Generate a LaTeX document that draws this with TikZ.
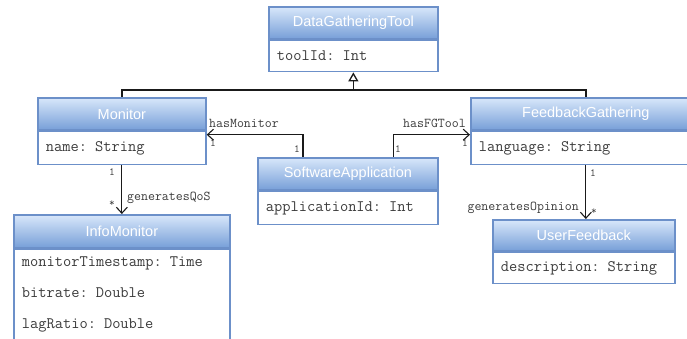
\documentclass[tikz,border=0pt]{standalone}
\usepackage{fontspec}
\setsansfont{Liberation Sans}
\usetikzlibrary{arrows.meta,calc}
\begin{document}
\begin{tikzpicture}[x=1pt,y=-1pt,
  hdr/.style={draw=color0,line width=1.7pt,top color=color1,bottom color=color2,text=white,
    font=\sffamily\fontsize{14.5}{16}\selectfont,anchor=north west,inner sep=0pt,
    minimum height=32pt,text width=#1,align=center},
  attr/.style={draw=color0,line width=1.7pt,fill=white,text=color3,
    font=\ttfamily\fontsize{16}{31}\selectfont,anchor=north west,inner xsep=8pt,inner ysep=0pt,
    align=left},
  lbl/.style={text=color3,font=\ttfamily\fontsize{13.5}{15}\selectfont,inner sep=0pt},
  mult/.style={text=color3,font=\ttfamily\fontsize{11}{12}\selectfont,inner sep=0pt},
  gen/.style={color4,line width=1.3pt},
  assoc/.style={color4,line width=1.1pt,-{Straight Barb[length=6pt,width=11pt]}}]
\definecolor{color0}{HTML}{6C90C9}
\definecolor{color1}{HTML}{D8E7FA}
\definecolor{color2}{HTML}{779FD8}
\definecolor{color3}{HTML}{3C3C3C}
\definecolor{color4}{HTML}{1A1A1A}
\clip (0,0) rectangle (687,339);
\fill[white] (0,0) rectangle (687,339);
% classes: header with the name, box below with the attributes
\node[hdr=169pt] (dgt) at (268,6) {DataGatheringTool};
\node[attr,text width=153pt,minimum height=31pt] (dgtb) at (dgt.south west) {toolId: Int};
\node[hdr=168pt] (mon) at (37,97) {Monitor};
\node[attr,text width=152pt,minimum height=33pt] (monb) at (mon.south west) {name: String};
\node[hdr=230pt] (fg) at (470,97) {FeedbackGathering};
\node[attr,text width=214pt,minimum height=33pt] (fgb) at (fg.south west) {language: String};
\node[hdr=180pt] (sa) at (257,157) {SoftwareApplication};
\node[attr,text width=164pt,minimum height=33pt] (sab) at (sa.south west) {applicationId: Int};
\node[hdr=216pt,minimum height=33pt] (im) at (13,214) {InfoMonitor};
\node[attr,text width=200pt,minimum height=90pt] (imb) at (im.south west) {monitorTimestamp: Time\\bitrate: Double\\lagRatio: Double};
\node[hdr=182pt,minimum height=31pt] (uf) at (492,219) {UserFeedback};
\node[attr,text width=166pt,minimum height=31pt] (ufb) at (uf.south west) {description: String};
% generalisation
\coordinate (split) at (dgtb.south |- 0,90);
\draw[gen] (mon.north) |- (split) -| (fg.north);
\draw[gen,-{Triangle[open,length=9pt,width=10pt]}] (split) -- (dgtb.south);
% associations
\draw[assoc] ($(sa.north west)+(46,0)$) |- ($(monb.north east)+(0,4)$);
\draw[assoc] ($(sa.north east)+(-45,0)$) |- ($(fgb.north west)+(0,4)$);
\draw[assoc] (monb.south) -- (im.north);
\draw[assoc] (fgb.south) -- (fgb.south |- uf.north);
\node[lbl,anchor=west] (hm) at (209,123) {hasMonitor};
\node[mult] (hm1) at (213,143) {1};
\node[mult] (hm2) at (297,149) {1};
\node[lbl,anchor=east] (hf) at (466,123) {hasFGTool};
\node[mult] (hf1) at (398,149) {1};
\node[mult] (hf2) at (465,143) {1};
\node[mult] (gq1) at (112,172) {1};
\node[mult] (gq2) at (112,204) {*};
\node[lbl,anchor=west] (gq) at (127,198) {generatesQoS};
\node[mult] (go1) at (593,173) {1};
\node[mult] (go2) at (594,212) {*};
\node[lbl,anchor=east] (go) at (579,208) {generatesOpinion};
\end{tikzpicture}
\end{document}
